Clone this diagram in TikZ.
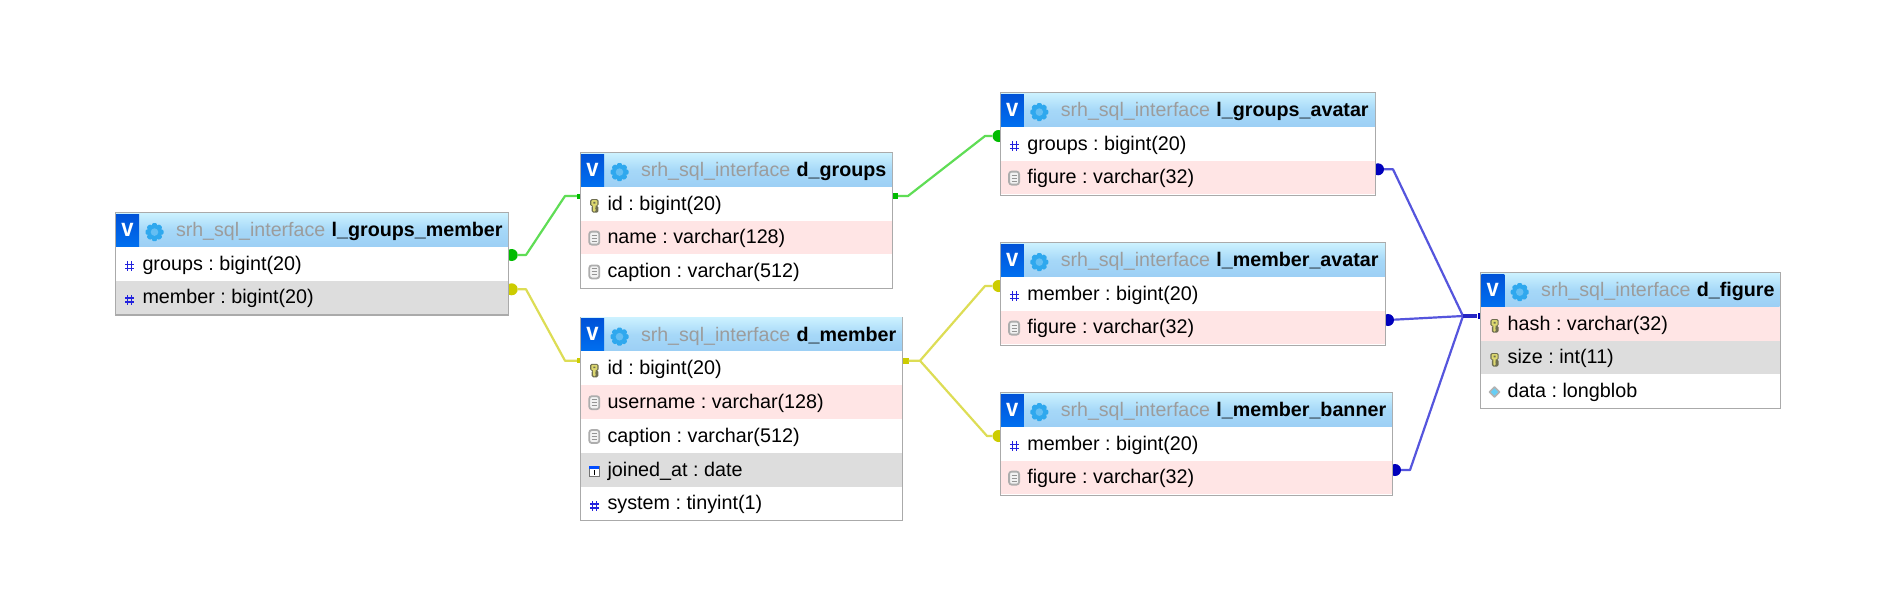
\documentclass[tikz,border=0pt]{standalone}
\usepackage{fontspec}
\setmainfont{Liberation Sans}
\pgfdeclarelayer{bg}
\pgfsetlayers{bg,main}
\definecolor{frameC}{HTML}{AAAAAA}
\definecolor{pinkC}{HTML}{FFE5E5}
\definecolor{grayC}{HTML}{DDDDDD}
\definecolor{prefixC}{HTML}{9C9C9C}
\definecolor{hashC}{HTML}{2222DD}
\definecolor{gearC}{HTML}{2FA8EE}
\definecolor{greenL}{HTML}{5FDD55}
\definecolor{greenD}{HTML}{00BB00}
\definecolor{yellowL}{HTML}{DDDD55}
\definecolor{yellowD}{HTML}{CCCC00}
\definecolor{blueL}{HTML}{5555DD}
\definecolor{blueD}{HTML}{0000BB}
\definecolor{keyC}{HTML}{DDD870}
\definecolor{keyE}{HTML}{6E6E50}
\tikzset{
  tablebox/.style={draw=frameC,line width=1.3pt,fill=white,inner sep=0pt,outer sep=0pt,anchor=north west},
  rowbox/.style={inner sep=0pt,outer sep=0pt,minimum height=33.8pt,anchor=north west},
  headbox/.style={inner sep=0pt,outer sep=0pt,minimum height=33.4pt,anchor=north west,top color=HeadT,bottom color=HeadB,middle color=HeadM},
  btnbox/.style={inner sep=0pt,outer sep=0pt,minimum width=23pt,minimum height=33.4pt,anchor=north west,top color=BtnT,bottom color=BtnB},
  rowtext/.style={anchor=base west,inner sep=0pt,outer sep=0pt,font=\frenchspacing\fontsize{19.75}{22}\selectfont},
  titletext/.style={rowtext},
  btntext/.style={anchor=center,inner sep=0pt,outer sep=0pt,text=white,xscale=.88,font=\fontsize{25}{27}\selectfont\bfseries},
  conn/.style={line width=2.2pt,line join=round},
  endc/.style={circle,inner sep=0pt,minimum size=12pt},
  stub/.style={rectangle,inner sep=0pt,minimum width=6pt,minimum height=6pt}
}
\definecolor{HeadT}{HTML}{CBF1FF}
\definecolor{HeadM}{HTML}{A6D8F8}
\definecolor{HeadB}{HTML}{9CCFF5}
\definecolor{BtnT}{HTML}{0052D8}
\definecolor{BtnB}{HTML}{0070F0}
\newcommand\hashicon{\begin{scope}[shift={(0.3,19.7)},line width=1.6pt,hashC]
  \draw (-2,-5) -- (-2,5) (2,-5) -- (2,5) (-4.5,-2) -- (4.5,-2) (-4.5,2) -- (4.5,2);
\end{scope}}
\newcommand\keyicon{\begin{scope}[shift={(0,19)}]
  \fill[keyE,rounded corners=1.5pt] (-4.2,-6.5) rectangle (4.2,0.5) (-2.6,0) rectangle (4,7);
  \fill[keyC,rounded corners=1pt] (-3,-5.5) rectangle (3,-0.2) (-1.2,-1) rectangle (1.2,6);
  \fill[keyE] (-1,-3.8) rectangle (1,-2.2) (1,2) rectangle (3,3.2);
\end{scope}}
\newcommand\docicon{\begin{scope}[shift={(0,17.6)}]
  \draw[black!32,fill=black!5,rounded corners=2.5pt,line width=1.8pt] (-5,-6.5) rectangle (5,6.5);
  \draw[black!42,line width=1.1pt] (-2.6,-3) -- (2.6,-3) (-2.6,0) -- (2.6,0) (-2.6,3) -- (2.6,3);
\end{scope}}
\newcommand\calicon{\begin{scope}[shift={(0,18.7)}]
  \draw[black!55,fill=white,line width=1.1pt] (-5,-5) rectangle (5,5);
  \fill[blue!70!cyan] (-5,-5) rectangle (5,-2.2);
  \fill[black] (-0.4,-1.2) rectangle (1,4);
\end{scope}}
\newcommand\blobicon{\begin{scope}[shift={(0,17.7)}]
  \draw[black!30,fill=cyan!60!white,line width=1.6pt,line join=round] (-5,0) -- (0,-5) -- (5,0) -- (0,5) -- cycle;
\end{scope}}
\newcommand\gearicon{\begin{scope}[shift={(39,19.4)}]
  \foreach \a in {0,45,...,315} {\fill[gearC,rotate=\a,rounded corners=.8pt] (-2.8,6.5) -- (2.8,6.5) -- (2,9) -- (-2,9) -- cycle;}
  \fill[gearC] (0,0) circle[radius=7.6pt];
  \fill[HeadM!45!gearC] (0,0) circle[radius=3.8pt];
\end{scope}}
\newcommand\dbrow[4]{%
  \pgfmathsetmacro\rt{34+33.8*(#1-1)}%
  \node[rowbox,fill=#2,minimum width=\curW pt-1.3pt] (\curname-r#1) at (0.65,\rt) {};
  \node[rowtext] (\curname-t#1) at (27,\rt+23.3) {#4};
  \begin{scope}[shift={(13.8,\rt)}]#3\end{scope}
}
% name, x, y, width, height, title, rows
\newcommand\dbtable[7]{%
  \begin{scope}[shift={(#2,#3)}]
    \def\curname{#1}\def\curW{#4}
    \node[tablebox,minimum width=#4pt,minimum height=#5pt] (#1) at (0,0) {};
    \node[headbox,minimum width=#4pt-1.3pt] (#1-head) at (0.65,0.65) {};
    \node[btnbox] (#1-btn) at (0.65,1.4) {};
    \node[btntext] (#1-v) at (12,17) {v};
    \gearicon
    \node[titletext] (#1-title) at (60.5,24) {\textcolor{prefixC}{\fontsize{19.6}{22}\selectfont srh\_sql\_interface}\hspace{6.4pt}{\fontsize{19.7}{22}\selectfont\textbf{#6}}};
    #7
  \end{scope}
}
\begin{document}
\begin{tikzpicture}[x=1pt,y=-1pt]
\useasboundingbox (0,0) rectangle (1902,608);
\begin{pgfonlayer}{bg}
  \fill[white] (0,0) rectangle (1902,608);
\end{pgfonlayer}

\dbtable{gm}{115.5}{212.7}{393.2}{102.4}{l\_groups\_member}{%
  \dbrow{1}{white}{\hashicon}{groups : bigint(20)}
  \dbrow{2}{grayC}{\hashicon}{member : bigint(20)}}
\dbtable{dg}{580.5}{152.7}{312.2}{135.4}{d\_groups}{%
  \dbrow{1}{white}{\keyicon}{id : bigint(20)}
  \dbrow{2}{pinkC}{\docicon}{name : varchar(128)}
  \dbrow{3}{white}{\docicon}{caption : varchar(512)}}
\dbtable{dm}{580.5}{317.3}{322.2}{203.4}{d\_member}{%
  \dbrow{1}{white}{\keyicon}{id : bigint(20)}
  \dbrow{2}{pinkC}{\docicon}{username : varchar(128)}
  \dbrow{3}{white}{\docicon}{caption : varchar(512)}
  \dbrow{4}{grayC}{\calicon}{joined\_at : date}
  \dbrow{5}{white}{\hashicon}{system : tinyint(1)}}
\dbtable{ga}{1000.3}{92.7}{375.4}{102.6}{l\_groups\_avatar}{%
  \dbrow{1}{white}{\hashicon}{groups : bigint(20)}
  \dbrow{2}{pinkC}{\docicon}{figure : varchar(32)}}
\dbtable{ma}{1000.3}{242.7}{385.4}{102.6}{l\_member\_avatar}{%
  \dbrow{1}{white}{\hashicon}{member : bigint(20)}
  \dbrow{2}{pinkC}{\docicon}{figure : varchar(32)}}
\dbtable{mb}{1000.3}{392.7}{392.4}{102.6}{l\_member\_banner}{%
  \dbrow{1}{white}{\hashicon}{member : bigint(20)}
  \dbrow{2}{pinkC}{\docicon}{figure : varchar(32)}}
\dbtable{df}{1480.7}{272.7}{299.6}{135.6}{d\_figure}{%
  \dbrow{1}{pinkC}{\keyicon}{hash : varchar(32)}
  \dbrow{2}{grayC}{\keyicon}{size : int(11)}
  \dbrow{3}{white}{\blobicon}{data : longblob}}

\begin{pgfonlayer}{bg}
  % green: l_groups_member.groups -- d_groups.id -- l_groups_avatar.groups
  \node[endc,fill=greenD] (c1) at (511.7,255) {};
  \coordinate (g1) at (526,255);
  \coordinate (g2) at (565,196);
  \node[stub,fill=greenD,minimum width=4pt,minimum height=5pt] (s1) at (579,196) {};
  \draw[conn,greenL] (c1) -- (g1) -- (g2) -- (s1);
  \node[stub,fill=greenD] (s2) at (895,196) {};
  \coordinate (g3) at (908,196);
  \coordinate (g4) at (985,136);
  \node[endc,fill=greenD] (c2) at (998.5,136) {};
  \draw[conn,greenL] (s2) -- (g3) -- (g4) -- (c2);
  % yellow
  \node[endc,fill=yellowD] (c3) at (511.7,289.3) {};
  \coordinate (y1) at (526,289.3);
  \coordinate (y2) at (565,360.7);
  \node[stub,fill=yellowD,minimum width=4pt,minimum height=5pt] (s3) at (579,360.7) {};
  \draw[conn,yellowL] (c3) -- (y1) -- (y2) -- (s3);
  \node[stub,fill=yellowD] (s4) at (905.5,360.7) {};
  \coordinate (y3) at (920,360.7);
  \coordinate (y4) at (985,286);
  \coordinate (y5) at (987,436);
  \node[endc,fill=yellowD] (c4) at (998.5,286) {};
  \node[endc,fill=yellowD] (c5) at (998.5,436) {};
  \draw[conn,yellowL] (s4) -- (y3) -- (y4) -- (c4);
  \draw[conn,yellowL] (y3) -- (y5) -- (c5);
  % blue
  \node[endc,fill=blueD] (c6) at (1378,169.3) {};
  \node[endc,fill=blueD] (c7) at (1388,320) {};
  \node[endc,fill=blueD] (c8) at (1395,470) {};
  \coordinate (b1) at (1393,169.3);
  \coordinate (b2) at (1410,470);
  \coordinate (b0) at (1463,316);
  \node[stub,fill=blueD,minimum width=3pt,minimum height=6pt] (s5) at (1479,316) {};
  \draw[conn,blueL] (c6) -- (b1) -- (b0);
  \draw[conn,blueL] (c7) -- (b0);
  \draw[conn,blueL] (c8) -- (b2) -- (b0);
  \draw[blueD!85!white,line width=3.2pt] (b0) -- (s5);
\end{pgfonlayer}
\end{tikzpicture}
\end{document}
